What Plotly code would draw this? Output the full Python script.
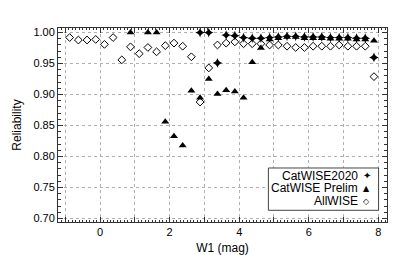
import plotly.graph_objects as go

# ---- data ----
allwise_x = [-0.875, -0.625, -0.375, -0.125, 0.125, 0.375, 0.625, 0.875, 1.125, 1.375,
             1.625, 1.875, 2.125, 2.375, 2.625, 2.875, 3.125, 3.375, 3.625, 3.875,
             4.125, 4.375, 4.625, 4.875, 5.125, 5.375, 5.625, 5.875, 6.125, 6.375,
             6.625, 6.875, 7.125, 7.375, 7.625, 7.875]
allwise_y = [0.992, 0.988, 0.988, 0.989, 0.981, 0.992, 0.956, 0.977, 0.966, 0.976,
             0.969, 0.979, 0.983, 0.978, 0.961, 0.888, 0.943, 0.980, 0.983, 0.985,
             0.982, 0.982, 0.982, 0.980, 0.980, 0.978, 0.976, 0.976, 0.978, 0.978,
             0.978, 0.980, 0.978, 0.978, 0.978, 0.929]

prelim_x = [0.875, 1.375, 1.625, 1.875, 2.125, 2.375, 2.625, 2.875, 3.125, 3.375,
            3.625, 3.875, 4.125, 4.375, 4.625, 4.875, 5.125, 5.375, 5.625, 5.875,
            6.125, 6.375, 6.625, 6.875, 7.125, 7.375, 7.625, 7.875]
prelim_y = [1.000, 1.000, 1.000, 0.856, 0.833, 0.818, 0.906, 0.895, 0.925, 0.901,
            0.907, 0.905, 0.895, 0.952, 0.975, 0.989, 0.991, 0.993, 0.993, 0.991,
            0.991, 0.991, 0.990, 0.990, 0.990, 0.989, 0.989, 0.987]

cat_x = [2.875, 3.125, 3.375, 3.625, 3.875, 4.125, 4.375, 4.625, 4.875, 5.125,
         5.375, 5.625, 5.875, 6.125, 6.375, 6.625, 6.875, 7.125, 7.375, 7.625, 7.875]
cat_y = [1.000, 1.000, 0.951, 0.996, 0.995, 0.992, 0.991, 0.991, 0.992, 0.993,
         0.994, 0.994, 0.993, 0.993, 0.993, 0.992, 0.992, 0.992, 0.991, 0.991, 0.960]

x_tickvals = [-1, 0, 1, 2, 3, 4, 5, 6, 7, 8]
x_ticktext = ["", "0", "", "2", "", "4", "", "6", "", "8"]
legend_names = ["CatWISE2020", "CatWISE Prelim", "AllWISE"]
legend_glyphs = ["\u2726", "\u25B2", "\u25C7"]
legend_glyph_sizes = [10, 8, 8]

FONT = "Liberation Sans, Arial, sans-serif"

fig = go.Figure()
fig.add_trace(go.Scatter(x=allwise_x, y=allwise_y, mode="markers", name="AllWISE",
                         marker=dict(symbol="diamond-open", size=6, color="black",
                                     line=dict(width=1, color="black"))))
fig.add_trace(go.Scatter(x=prelim_x, y=prelim_y, mode="markers", name="CatWISE Prelim",
                         marker=dict(symbol="triangle-up", size=7, color="black",
                                     line=dict(width=0))))
fig.add_trace(go.Scatter(x=cat_x, y=cat_y, mode="markers", name="CatWISE2020",
                         marker=dict(symbol="star-diamond", size=7, color="black",
                                     line=dict(width=0))))

fig.update_layout(
    width=407, height=255,
    margin=dict(l=58, r=20, t=28, b=33),
    paper_bgcolor="white", plot_bgcolor="white",
    showlegend=False,
    font=dict(family=FONT, size=11, color="black"),
    xaxis=dict(
        range=[-1.21, 8.25], tickmode="array", tickvals=x_tickvals, ticktext=x_ticktext,
        ticks="inside", ticklen=5, tickcolor="#333", showline=True, linecolor="#333",
        linewidth=1, mirror="allticks", showgrid=True, gridcolor="#b0b0b0",
        griddash="dot", gridwidth=1, zeroline=False,
        tickfont=dict(size=11),
        minor=dict(dtick=0.1, tick0=0, ticks="inside", ticklen=2, tickcolor="#333",
                   showgrid=False),
        title=dict(text="W1 (mag)", font=dict(size=12), standoff=7),
        automargin=False,
    ),
    yaxis=dict(
        range=[0.6945, 1.0074], dtick=0.05, tick0=0.70, tickformat=".2f",
        ticks="inside", ticklen=5, tickcolor="#333", showline=True, linecolor="#333",
        linewidth=1, mirror="allticks", showgrid=True, gridcolor="#b0b0b0",
        griddash="dot", gridwidth=1, zeroline=False,
        tickfont=dict(size=11),
        minor=dict(dtick=0.01, tick0=0.70, ticks="inside", ticklen=3, tickcolor="#333",
                   showgrid=False),
        title=dict(text="Reliability", font=dict(size=12), standoff=9),
        automargin=False,
    ),
)

# legend box (symbols on the right of the text, as in the original)
fig.add_shape(type="rect", xref="paper", yref="paper", x0=0.6395, x1=0.9744,
              y0=0.0603, y1=0.2784, line=dict(color="#444", width=1),
              fillcolor="white", layer="above")
line_y = [0.2392, 0.1737, 0.1082]
for name, glyph, gs, yy in zip(legend_names, legend_glyphs, legend_glyph_sizes, line_y):
    fig.add_annotation(xref="paper", yref="paper", x=0.9156, y=yy, text=name,
                       showarrow=False, xanchor="right", yanchor="middle", borderpad=0,
                       font=dict(family=FONT, size=12, color="black"))
    fig.add_annotation(xref="paper", yref="paper", x=0.939, y=yy, text=glyph,
                       showarrow=False, xanchor="center", yanchor="middle", borderpad=0,
                       font=dict(family="DejaVu Sans", size=gs, color="black"))

fig.write_html("out.html", config={"displayModeBar": False},
               post_script="document.body.style.margin='0';document.body.style.padding='0';")
